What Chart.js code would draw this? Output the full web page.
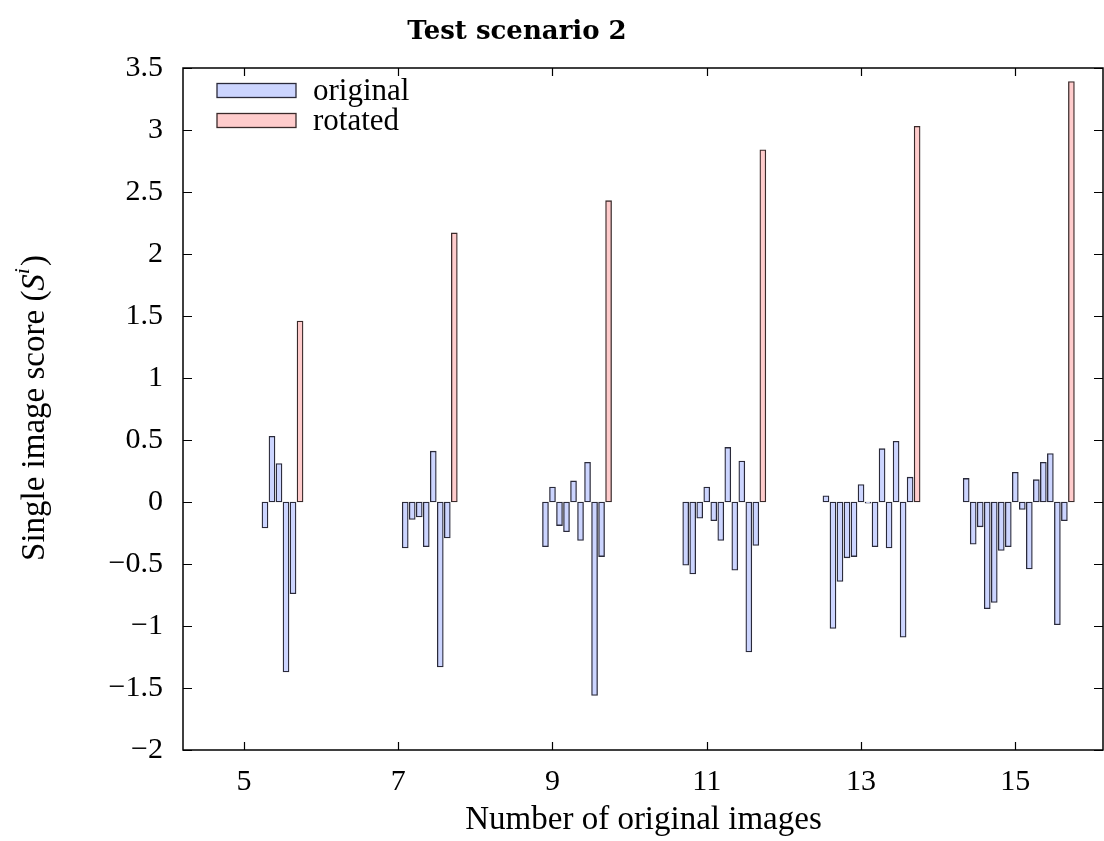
<!DOCTYPE html>
<html>
<head>
<meta charset="utf-8">
<script src="https://cdn.jsdelivr.net/npm/chart.js@4.4.1/dist/chart.umd.min.js"></script>
<style>
  html, body { margin: 0; padding: 0; background: #fff; }
  #wrap { width: 1104px; height: 841px; }
</style>
</head>
<body>
<div id="wrap"><canvas id="chart" width="1104" height="841"></canvas></div>
<script>
// data: one group per number of original images
const groupSizes = [5, 7, 9, 11, 13, 15];
const originalScores = [
  [-0.21, 0.53, 0.31, -1.37, -0.74],
  [-0.37, -0.14, -0.12, -0.36, 0.41, -1.33, -0.29],
  [-0.36, 0.12, -0.19, -0.24, 0.17, -0.31, 0.32, -1.56, -0.44],
  [-0.51, -0.58, -0.13, 0.12, -0.15, -0.31, 0.44, -0.55, 0.33, -1.21, -0.35],
  [0.05, -1.02, -0.64, -0.45, -0.44, 0.14, -0.01, -0.36, 0.43, -0.37, 0.49, -1.09, 0.20],
  [0.19, -0.34, -0.20, -0.86, -0.81, -0.39, -0.36, 0.24, -0.06, -0.54, 0.18, 0.32, 0.39, -0.99, -0.15]
];
const rotatedScores = [1.46, 2.17, 2.43, 2.84, 3.03, 3.39];
const xTicks = [5, 7, 9, 11, 13, 15];
const yTicks = [-2, -1.5, -1, -0.5, 0, 0.5, 1, 1.5, 2, 2.5, 3, 3.5];

// bars of a group sit one slot apart, the rotated one closes the group
const slot = 1 / 11;
const rotatedOffset = 8 * slot;

const originalPoints = [];
const rotatedPoints = [];
groupSizes.forEach((n, g) => {
  originalScores[g].forEach((v, i) => {
    originalPoints.push({ x: n + rotatedOffset - (n - i) * slot, y: v });
  });
  rotatedPoints.push({ x: n + rotatedOffset, y: rotatedScores[g] });
});

const serif = '"Liberation Serif", "DejaVu Serif", serif';
const tickFont = { family: serif, size: 30 };
const titleFont = { family: serif, size: 33 };
const fmt = v => (v < 0 ? '\u2212' + Math.abs(v) : String(v));

// frame, inward ticks, title, y label and legend like the gnuplot original
const decorations = {
  id: 'decorations',
  afterDraw(chart) {
    const { ctx, chartArea: a, scales: { x, y } } = chart;
    ctx.save();
    ctx.strokeStyle = '#000';
    ctx.lineWidth = 1.5;
    ctx.strokeRect(a.left, a.top, a.right - a.left - 1, a.bottom - a.top);
    ctx.lineWidth = 1.2;
    ctx.beginPath();
    xTicks.forEach(v => {
      const px = Math.round(x.getPixelForValue(v)) + 0.5;
      ctx.moveTo(px, a.bottom); ctx.lineTo(px, a.bottom - 8);
      ctx.moveTo(px, a.top); ctx.lineTo(px, a.top + 8);
    });
    yTicks.forEach(v => {
      const py = Math.round(y.getPixelForValue(v)) + 0.5;
      ctx.moveTo(a.left, py); ctx.lineTo(a.left + 9, py);
      ctx.moveTo(a.right - 1, py); ctx.lineTo(a.right - 10, py);
    });
    ctx.stroke();

    // title
    ctx.fillStyle = '#000';
    ctx.font = 'bold 26px "DejaVu Serif", serif';
    ctx.textAlign = 'center';
    ctx.textBaseline = 'alphabetic';
    ctx.fillText('Test scenario 2', 517, 39);

    // y axis label with S^i
    ctx.translate(35, (a.top + a.bottom) / 2);
    ctx.rotate(-Math.PI / 2);
    const parts = [
      { t: 'Single image score (', f: '33px ' + serif, dy: 0 },
      { t: 'S', f: 'italic 33px ' + serif, dy: 0 },
      { t: 'i', f: 'italic 22px ' + serif, dy: -12 },
      { t: ')', f: '33px ' + serif, dy: 0 }
    ];
    let total = 0;
    parts.forEach(p => { ctx.font = p.f; p.w = ctx.measureText(p.t).width; total += p.w; });
    let cx = -total / 2;
    ctx.textAlign = 'left';
    ctx.textBaseline = 'middle';
    parts.forEach(p => { ctx.font = p.f; ctx.fillText(p.t, cx, p.dy); cx += p.w + (p.t === 'i' ? 2 : 0); });
    ctx.restore();

    // legend
    ctx.save();
    ctx.font = '31px ' + serif;
    ctx.textBaseline = 'middle';
    chart.data.datasets.forEach((ds, k) => {
      const cy = 90.5 + k * 30;
      ctx.fillStyle = ds.backgroundColor;
      ctx.fillRect(217, cy - 7, 79, 14);
      ctx.strokeStyle = ds.borderColor;
      ctx.lineWidth = 1.3;
      ctx.strokeRect(217, cy - 7, 79, 14);
      ctx.fillStyle = '#000';
      ctx.fillText(ds.label, 313, cy + 1);
    });
    ctx.restore();
  }
};

new Chart(document.getElementById('chart').getContext('2d'), {
  type: 'bar',
  data: {
    datasets: [
      { label: 'original', data: originalPoints, backgroundColor: '#ccd5ff', borderColor: '#2a2a3a' },
      { label: 'rotated', data: rotatedPoints, backgroundColor: '#ffcccc', borderColor: '#3a2a2a' }
    ]
  },
  options: {
    responsive: false,
    animation: false,
    layout: { padding: { top: 68, right: 0, bottom: 0, left: 0 } },
    datasets: { bar: { grouped: false, barThickness: 6, borderWidth: 1.3, borderSkipped: false } },
    plugins: { legend: { display: false }, tooltip: { enabled: false } },
    scales: {
      x: {
        type: 'linear', min: 4.21, max: 16.15, offset: false,
        grid: { display: false }, border: { display: false },
        afterBuildTicks: s => { s.ticks = xTicks.map(v => ({ value: v })); },
        afterFit: s => { s.height = 91; },
        ticks: { font: tickFont, color: '#000', padding: 6, maxRotation: 0, autoSkip: false },
        title: { display: true, text: 'Number of original images', font: titleFont, color: '#000', padding: { top: 0, bottom: 1 } }
      },
      y: {
        min: -2, max: 3.5,
        grid: { display: false }, border: { display: false },
        afterBuildTicks: s => { s.ticks = yTicks.map(v => ({ value: v })); },
        afterFit: s => { s.width = 183; },
        ticks: { font: tickFont, color: '#000', padding: 12, callback: fmt, autoSkip: false }
      }
    }
  },
  plugins: [decorations]
});
</script>
</body>
</html>
